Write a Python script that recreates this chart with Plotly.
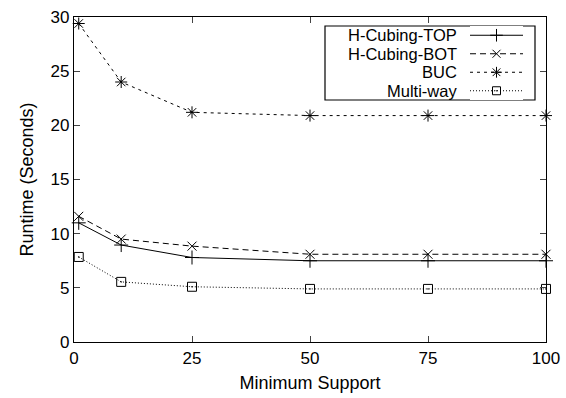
import plotly.graph_objects as go

support = [1, 10, 25, 50, 75, 100]
h_top = [11.0, 8.95, 7.8, 7.5, 7.5, 7.5]
h_bot = [11.6, 9.5, 8.85, 8.1, 8.1, 8.1]
buc = [29.4, 24.0, 21.2, 20.9, 20.9, 20.9]
multiway = [7.85, 5.55, 5.1, 4.9, 4.9, 4.9]

names = ["H-Cubing-TOP", "H-Cubing-BOT", "BUC", "Multi-way"]
series = [h_top, h_bot, buc, multiway]
dashes = ["solid", "6px,4px", "3px,4px", "1px,2px"]
symbols = ["cross-thin-open", "x-thin-open", "asterisk-open", "square-open-dot"]
msizes = [10, 9, 10, 9]

FONT = "Liberation Sans, Arial, sans-serif"
fig = go.Figure()
for n, s, d, sym, ms in zip(names, series, dashes, symbols, msizes):
    fig.add_trace(go.Scatter(
        x=support, y=s, mode="lines+markers", name=n,
        line=dict(color="black", width=1, dash=d),
        marker=dict(symbol=sym, size=ms, color="black", line=dict(color="black", width=1)),
        showlegend=False, cliponaxis=False))

x0p, x1p = 74, 546
y0p, y1p = 17, 342
W = x1p - x0p
H = y1p - y0p
def px(p):
    return (p - x0p) / W
def py(p):
    return 1 - (p - y0p) / H

# custom legend (text left, sample right) on overlay axes
for i, (n, d, sym, ms) in enumerate(zip(names, dashes, symbols, msizes)):
    yy = 3.5 - i
    fig.add_trace(go.Scatter(
        x=[0, 0.5, 1], y=[yy, yy, yy], mode="lines", xaxis="x2", yaxis="y2",
        line=dict(color="black", width=1, dash=d), showlegend=False, hoverinfo="skip"))
    fig.add_trace(go.Scatter(
        x=[0.5], y=[yy], mode="markers", xaxis="x2", yaxis="y2",
        marker=dict(symbol=sym, size=ms - 1, color="black", line=dict(color="black", width=1)),
        showlegend=False, hoverinfo="skip"))
    fig.add_annotation(xref="paper", yref="y2", x=px(458), y=yy, text=n, showarrow=False,
                       xanchor="right", yanchor="middle", borderpad=0,
                       font=dict(family=FONT, size=16.5, color="black"))

fig.add_shape(type="rect", xref="paper", yref="paper",
              x0=px(325), x1=px(535), y0=py(26), y1=py(100),
              line=dict(color="black", width=1.2), fillcolor="white", layer="below")

fig.update_layout(
    width=566, height=398,
    margin=dict(l=x0p, r=566 - x1p, t=y0p, b=398 - y1p, autoexpand=False),
    plot_bgcolor="white", paper_bgcolor="white",
    font=dict(family=FONT, size=17, color="black"),
    xaxis=dict(range=[0, 100], tickvals=[0, 25, 50, 75, 100], ticks="inside", ticklen=6,
               showline=True, linecolor="black", linewidth=1.2, mirror="allticks",
               showgrid=False, zeroline=False, tickfont=dict(size=17), automargin=False,
               title=dict(text="Minimum Support", standoff=9, font=dict(size=18))),
    yaxis=dict(range=[0, 30], tickvals=[0, 5, 10, 15, 20, 25, 30], ticks="inside", ticklen=6,
               showline=True, linecolor="black", linewidth=1.2, mirror="allticks",
               showgrid=False, zeroline=False, tickfont=dict(size=17), automargin=False,
               title=dict(text="Runtime (Seconds)", standoff=12, font=dict(size=18))),
    xaxis2=dict(domain=[px(470), px(523)], range=[0, 1], visible=False, anchor="y2"),
    yaxis2=dict(domain=[py(100), py(26)], range=[0, 4], visible=False, anchor="x2"),
)

fig.write_html("out.html")
